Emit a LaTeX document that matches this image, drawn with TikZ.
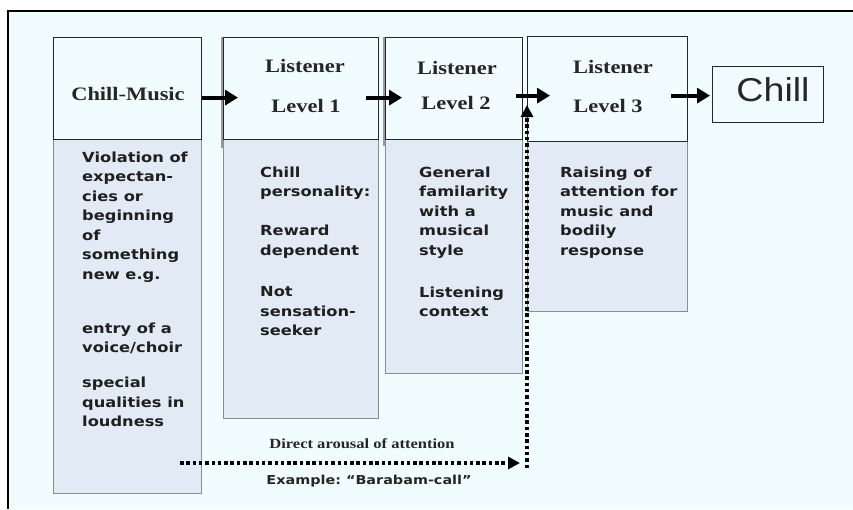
\documentclass[tikz,border=0pt]{standalone}
\usepackage{fontspec}
\usetikzlibrary{arrows.meta,calc}
\newfontfamily\hdrfont[FakeStretch=1.18]{Liberation Serif}
\newfontfamily\bodyfont[FakeStretch=1.17]{DejaVu Sans}
\newfontfamily\chillfont[FakeStretch=1.14]{Liberation Sans}
\definecolor{panel}{HTML}{F1FCFE}
\definecolor{bodyfill}{HTML}{E2EAF6}
\definecolor{bodyline}{HTML}{8C8C8C}
\definecolor{edgegray}{HTML}{9A9A9A}
\frenchspacing

\begin{document}
\begin{tikzpicture}[x=1pt,y=-1pt,
  hdrbox/.style={draw=black!85, line width=1.2pt, fill=panel, inner sep=0pt, anchor=north west},
  bodybox/.style={draw=bodyline, line width=0.9pt, fill=bodyfill, inner sep=0pt, anchor=north west},
  hdrtext/.style={font=\hdrfont\bfseries\fontsize{19}{24}\selectfont, text=black!85, inner sep=0pt, anchor=base},
  bodytext/.style={font=\bodyfont\bfseries\fontsize{13.9}{19.5}\selectfont, text=black!88, align=left, inner sep=0pt, anchor=north west},
  flow/.style={line width=4pt, -{Triangle[length=13pt,width=15pt]}},
  dotflow/.style={line width=3.6pt, dash pattern=on 3.5pt off 2.8pt, -{Triangle[length=12pt,width=12pt]}},
  notefont/.style={inner sep=0pt, anchor=base, text=black!85}
]
% page and panel
\useasboundingbox (0,0) rectangle (853,509);
\fill[white] (0,0) rectangle (853,509);
\fill[panel] (8,11) rectangle (853,509);
\draw[line width=2.5pt] (853,11) -- (8,11) -- (8,509);

% lower description panels
\node[bodybox, minimum width=148, minimum height=354] (b1) at (53,139) {};
\node[bodybox, minimum width=155, minimum height=279] (b2) at (223,139) {};
\node[bodybox, minimum width=137, minimum height=234] (b3) at (385,139) {};
\node[bodybox, minimum width=160, minimum height=170] (b4) at (527,141) {};

% header boxes
\node[hdrbox, minimum width=148, minimum height=102] (h1) at (53,37) {};
\node[hdrbox, minimum width=155, minimum height=102] (h2) at (223,37) {};
\node[hdrbox, minimum width=137, minimum height=102] (h3) at (385,37) {};
\node[hdrbox, minimum width=160, minimum height=105] (h4) at (527,36) {};
\node[hdrbox, minimum width=111, minimum height=56] (chillbox) at (712,66) {};
\draw[edgegray, line width=2pt] ([xshift=-1pt]h2.north west) -- ([shift={(-1pt,-8pt)}]h2.south west);
\draw[edgegray, line width=2pt] ([xshift=-1pt]h3.north west) -- ([shift={(-1pt,-6pt)}]h3.south west);

% header labels
\node[hdrtext] (t1) at (128,100) {Chill-Music};
\node[hdrtext] (t2a) at (305,72.5) {Listener};
\node[hdrtext] (t2b) at (306,112.5) {Level 1};
\node[hdrtext] (t3a) at (457,74) {Listener};
\node[hdrtext] (t3b) at (456,109) {Level 2};
\node[hdrtext] (t4a) at (613,73) {Listener};
\node[hdrtext] (t4b) at (608,112) {Level 3};
\node[inner sep=0pt, anchor=base, font=\chillfont\fontsize{33}{40}\selectfont, text=black!85] (chilltxt) at (773,101.7) {Chill};

% description texts
\node[bodytext] (d1) at (82,148.35) {\strut Violation of\\expectan-\\cies or\\beginning\\of\\something\\new e.g.\\[34.5pt]entry of a\\voice/choir\\[15.5pt]special\\qualities in\\loudness};
\node[bodytext] (d2) at (260,163.35) {\strut Chill\\personality:\\[19.5pt]Reward\\dependent\\[22pt]Not\\sensation-\\seeker};
\node[bodytext] (d3) at (419,163.35) {\strut General\\familarity\\with a\\musical\\style\\[22.5pt]Listening\\context};
\node[bodytext] (d4) at (560,163.35) {\strut Raising of\\attention for\\music and\\bodily\\response};

% main flow arrows
\draw[flow] ([yshift=-9pt]h1.east) -- ([shift={(15pt,-9pt)}]h2.west);
\draw[flow] ([shift={(-13pt,-9pt)}]h2.east) -- ([shift={(17pt,-9pt)}]h3.west);
\draw[flow] ([shift={(-7pt,-7pt)}]h3.east) -- ([shift={(23pt,-6.5pt)}]h4.west);
\draw[flow] ([shift={(-17pt,-6.5pt)}]h4.east) -- ([shift={(-2pt,-1pt)}]chillbox.west);

% direct arousal path
\coordinate (ds) at (180,463);
\coordinate (dt) at (520,463);
\coordinate (vb) at (527,468);
\coordinate (vt) at (527,105);
\draw[dotflow] (ds) -- (dt);
\draw[dotflow] (vb) -- (vt);
\node[notefont, font=\hdrfont\bfseries\fontsize{14}{16}\selectfont] (n1) at (362,448) {Direct arousal of attention};
\node[notefont, font=\bodyfont\bfseries\fontsize{12.3}{15}\selectfont] (n2) at (369,484) {Example: “Barabam-call”};
\end{tikzpicture}
\end{document}
